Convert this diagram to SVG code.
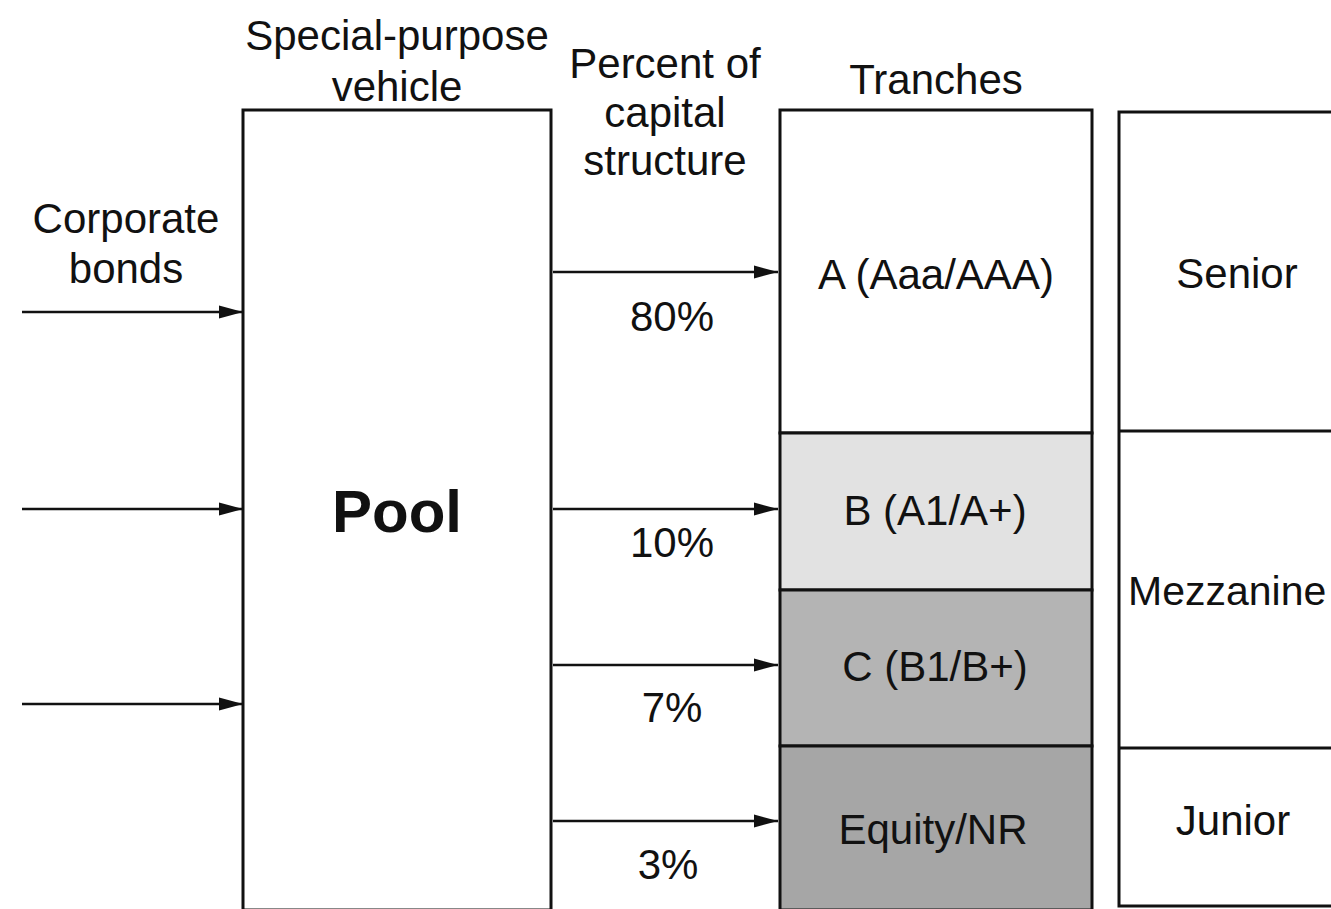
<svg xmlns="http://www.w3.org/2000/svg" width="1331" height="909" viewBox="0 0 1331 909">
<style>
.t{font-family:"Liberation Sans",Arial,sans-serif;font-size:42px;fill:#111;text-anchor:middle}
.b{fill:none;stroke:#111;stroke-width:3}
.c{stroke:#111;stroke-width:2.5;fill:none}
</style>
<defs>
<marker id="ah" markerUnits="userSpaceOnUse" markerWidth="26" markerHeight="16" refX="24" refY="8" orient="auto">
<path d="M0,1.5 L24,8 L0,14.5 Z" fill="#111"/>
</marker>
</defs>
<rect width="1331" height="909" fill="#fff"/>

<g id="labels">
<text class="t" x="397" y="50">Special-purpose</text>
<text class="t" x="397" y="101">vehicle</text>
<text class="t" x="665" y="78">Percent of</text>
<text class="t" x="665" y="127">capital</text>
<text class="t" x="665" y="175">structure</text>
<text class="t" x="936" y="94">Tranches</text>
<text class="t" x="126" y="233">Corporate</text>
<text class="t" x="126" y="283">bonds</text>
<text class="t" x="672" y="331">80%</text>
<text class="t" x="672" y="557">10%</text>
<text class="t" x="672" y="722">7%</text>
<text class="t" x="668" y="879">3%</text>
</g>

<g id="pool">
<rect class="b" x="243" y="110" width="308" height="800"/>
<text class="t" x="397" y="532" style="font-weight:bold;font-size:60px">Pool</text>
</g>

<g id="tranche-a">
<rect class="b" x="780" y="110" width="312" height="323" fill="#fff"/>
<text class="t" x="936" y="289">A (Aaa/AAA)</text>
</g>
<g id="tranche-b">
<rect x="780" y="433" width="312" height="157" fill="#e2e2e2" stroke="#111" stroke-width="3"/>
<text class="t" x="935" y="525">B (A1/A+)</text>
</g>
<g id="tranche-c">
<rect x="780" y="590" width="312" height="156" fill="#b4b4b4" stroke="#111" stroke-width="3"/>
<text class="t" x="935" y="681">C (B1/B+)</text>
</g>
<g id="tranche-equity">
<rect x="780" y="746" width="312" height="164" fill="#a6a6a6" stroke="#111" stroke-width="3"/>
<text class="t" x="933" y="844">Equity/NR</text>
</g>

<g id="seniority">
<rect class="b" x="1119" y="112" width="230" height="794"/>
<line class="b" x1="1119" y1="431" x2="1331" y2="431"/>
<line class="b" x1="1119" y1="748" x2="1331" y2="748"/>
<text class="t" x="1237" y="288">Senior</text>
<text class="t" x="1128" y="605" style="text-anchor:start;font-size:41px">Mezzanine</text>
<text class="t" x="1233" y="835">Junior</text>
</g>

<g id="connectors">
<line class="c" x1="22" y1="312" x2="243" y2="312" marker-end="url(#ah)"/>
<line class="c" x1="22" y1="509" x2="243" y2="509" marker-end="url(#ah)"/>
<line class="c" x1="22" y1="704" x2="243" y2="704" marker-end="url(#ah)"/>
<line class="c" x1="553" y1="272" x2="778" y2="272" marker-end="url(#ah)"/>
<line class="c" x1="553" y1="509" x2="778" y2="509" marker-end="url(#ah)"/>
<line class="c" x1="553" y1="665" x2="778" y2="665" marker-end="url(#ah)"/>
<line class="c" x1="553" y1="821" x2="778" y2="821" marker-end="url(#ah)"/>
</g>
</svg>
